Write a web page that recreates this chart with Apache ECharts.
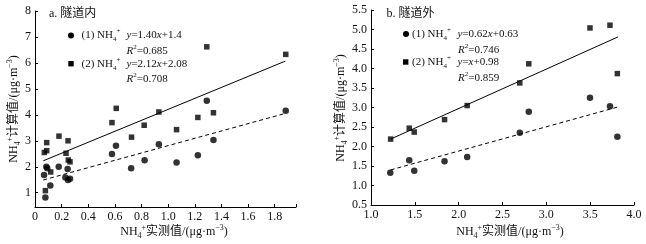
<!DOCTYPE html>
<html>
<head>
<meta charset="utf-8">
<script src="https://cdn.jsdelivr.net/npm/echarts@6/dist/echarts.min.js"></script>
<style>
  html, body { margin: 0; padding: 0; background: #fff; }
  #container { width: 646px; height: 244px; }
</style>
</head>
<body>
<div id="container"></div>
<script>
// a. 隧道内 —— 圆点 (1)，方块 (2)
var inCircleX = [0.068, 0.085, 0.092, 0.078, 0.115, 0.178, 0.245, 0.228, 0.248, 0.263, 0.578, 0.608, 0.722, 0.823, 0.93, 1.063, 1.223, 1.29, 1.34, 1.883]
var inCircleY = [1.68, 2.0, 1.94, 0.82, 1.28, 2.0, 1.91, 1.59, 1.49, 1.54, 2.49, 2.81, 1.94, 2.25, 2.87, 2.16, 2.44, 4.54, 3.03, 4.16]
var inSquareX = [0.07, 0.088, 0.088, 0.078, 0.118, 0.18, 0.233, 0.248, 0.25, 0.263, 0.578, 0.61, 0.725, 0.82, 0.93, 1.063, 1.223, 1.29, 1.34, 1.883]
var inSquareY = [2.55, 2.62, 2.93, 1.08, 1.80, 3.18, 2.52, 3.0, 2.26, 2.19, 3.70, 4.25, 3.14, 3.60, 4.11, 3.43, 3.90, 6.62, 4.08, 6.33]
var inFit1X = [0.062, 1.883]
var inFit1Y = [1.49, 4.06]
var inFit2X = [0.062, 1.88]
var inFit2Y = [2.23, 6.07]

// b. 隧道外
var outCircleX = [1.22, 1.436, 1.493, 1.839, 2.097, 2.697, 2.80, 3.498, 3.726, 3.81]
var outCircleY = [1.33, 1.65, 1.38, 1.62, 1.73, 2.35, 2.89, 3.25, 3.03, 2.25]
var outSquareX = [1.224, 1.436, 1.493, 1.839, 2.097, 2.697, 2.80, 3.498, 3.726, 3.81]
var outSquareY = [2.19, 2.47, 2.37, 2.69, 3.05, 3.63, 4.12, 5.04, 5.11, 3.87]
var outFit1X = [1.224, 3.81]
var outFit1Y = [1.40, 3.01]
var outFit2X = [1.224, 3.817]
var outFit2Y = [2.19, 4.81]

// 刻度
var inXTicks = [0, 0.2, 0.4, 0.6, 0.8, 1.0, 1.2, 1.4, 1.6, 1.8]
var inYTicks = [1, 2, 3, 4, 5, 6, 7, 8]

var SERIF = "'Liberation Serif','Noto Sans CJK SC',serif"

function pairs(xs, ys) {
  var out = []
  for (var i = 0; i < xs.length; i++) {
    out.push([xs[i], ys[i]])
  }
  return out
}

var rich = {
  t: { fontFamily: SERIF, fontSize: 11, lineHeight: 15, color: '#111' },
  i: { fontFamily: SERIF, fontSize: 11, lineHeight: 15, fontStyle: 'italic', color: '#111' },
  sb: { fontFamily: SERIF, fontSize: 7, lineHeight: 7, verticalAlign: 'bottom', color: '#111' },
  sp: { fontFamily: SERIF, fontSize: 7, lineHeight: 7, verticalAlign: 'top', color: '#111' },
  a: { fontFamily: SERIF, fontSize: 12, lineHeight: 16, color: '#111' },
  asb: { fontFamily: SERIF, fontSize: 8, lineHeight: 8, verticalAlign: 'bottom', color: '#111' },
  asp: { fontFamily: SERIF, fontSize: 8, lineHeight: 8, verticalAlign: 'top', color: '#111' }
}

function txt(x, y, s, align, rot) {
  return {
    type: 'text',
    x: x,
    y: y,
    rotation: rot || 0,
    style: {
      text: s,
      rich: rich,
      align: align || 'left',
      verticalAlign: 'middle',
      fill: '#111'
    }
  }
}

var xName = '{a|NH}{asb|4}{asp|+}{a|实测值/(μg·m}{asp|−3}{a|)}'
var yName = '{a|NH}{asb|4}{asp|+}{a|计算值/(μg·m}{asp|−3}{a|)}'

function axisCommon() {
  return {
    axisLine: { lineStyle: { color: '#000', width: 1 } },
    axisTick: { inside: true, length: 3, lineStyle: { color: '#000' } },
    axisLabel: { color: '#111', fontFamily: SERIF, fontSize: 12, margin: 4 },
    splitLine: { show: false }
  }
}

var chart = echarts.init(document.getElementById('container'))

var xa0 = axisCommon()
xa0.gridIndex = 0
xa0.type = 'value'
xa0.min = 0
xa0.max = 1.96
xa0.axisTick.customValues = inXTicks.concat([1.96])
xa0.axisLabel.customValues = inXTicks
xa0.axisLabel.formatter = function(v) { return v === 0 ? '0' : v.toFixed(1) }

var ya0 = axisCommon()
ya0.gridIndex = 0
ya0.type = 'value'
ya0.min = 0.45
ya0.max = 8
ya0.axisTick.customValues = inYTicks
ya0.axisLabel.customValues = inYTicks
ya0.axisLabel.formatter = function(v) { return String(v) }

var xa1 = axisCommon()
xa1.gridIndex = 1
xa1.type = 'value'
xa1.min = 1
xa1.max = 4
xa1.interval = 0.5
xa1.axisLabel.formatter = function(v) { return v.toFixed(1) }

var ya1 = axisCommon()
ya1.gridIndex = 1
ya1.type = 'value'
ya1.min = 0.5
ya1.max = 5.5
ya1.interval = 0.5
ya1.axisLabel.formatter = function(v) { return v.toFixed(1) }

chart.setOption({
  backgroundColor: '#fff',
  animation: false,
  grid: [
    { left: 35, top: 11, width: 261, height: 196 },
    { left: 371, top: 10, width: 263, height: 195 }
  ],
  xAxis: [xa0, xa1],
  yAxis: [ya0, ya1],
  series: [
    { type: 'scatter', xAxisIndex: 0, yAxisIndex: 0, symbol: 'circle', symbolSize: 6.5, itemStyle: { color: '#000' }, data: pairs(inCircleX, inCircleY) },
    { type: 'scatter', xAxisIndex: 0, yAxisIndex: 0, symbol: 'rect', symbolSize: 5.5, itemStyle: { color: '#000' }, data: pairs(inSquareX, inSquareY) },
    { type: 'line', xAxisIndex: 0, yAxisIndex: 0, symbol: 'none', lineStyle: { color: '#000', width: 1, type: [4, 3] }, data: pairs(inFit1X, inFit1Y) },
    { type: 'line', xAxisIndex: 0, yAxisIndex: 0, symbol: 'none', lineStyle: { color: '#000', width: 1 }, data: pairs(inFit2X, inFit2Y) },
    { type: 'scatter', xAxisIndex: 1, yAxisIndex: 1, symbol: 'circle', symbolSize: 6.5, itemStyle: { color: '#000' }, data: pairs(outCircleX, outCircleY) },
    { type: 'scatter', xAxisIndex: 1, yAxisIndex: 1, symbol: 'rect', symbolSize: 5.5, itemStyle: { color: '#000' }, data: pairs(outSquareX, outSquareY) },
    { type: 'line', xAxisIndex: 1, yAxisIndex: 1, symbol: 'none', lineStyle: { color: '#000', width: 1, type: [4, 3] }, data: pairs(outFit1X, outFit1Y) },
    { type: 'line', xAxisIndex: 1, yAxisIndex: 1, symbol: 'none', lineStyle: { color: '#000', width: 1 }, data: pairs(outFit2X, outFit2Y) }
  ],
  graphic: [
    // 坐标轴标题
    txt(174, 232, xName, 'center'),
    txt(14, 109, yName, 'center', Math.PI / 2),
    txt(510, 232, xName, 'center'),
    txt(341, 108, yName, 'center', Math.PI / 2),

    // a. 隧道内
    txt(49, 13.5, '{a|a. 隧道内}'),
    { type: 'circle', shape: { cx: 71, cy: 35.5, r: 3 }, style: { fill: '#000' } },
    txt(81.5, 35.5, '{t|(1) NH}{sb|4}{sp|+}'),
    txt(126.5, 35.5, '{i|y}{t|=1.40}{i|x}{t|+1.4}'),
    txt(126.5, 51, '{i|R}{sp|2}{t|=0.685}'),
    { type: 'rect', shape: { x: 68.3, y: 61, width: 5.4, height: 5.4 }, style: { fill: '#000' } },
    txt(81.5, 64, '{t|(2) NH}{sb|4}{sp|+}'),
    txt(126.5, 64, '{i|y}{t|=2.12}{i|x}{t|+2.08}'),
    txt(126.5, 79.5, '{i|R}{sp|2}{t|=0.708}'),

    // b. 隧道外
    txt(386.5, 13.5, '{a|b. 隧道外}'),
    { type: 'circle', shape: { cx: 406, cy: 34, r: 3 }, style: { fill: '#000' } },
    txt(412, 34, '{t|(1) NH}{sb|4}{sp|+}'),
    txt(457.5, 34, '{i|y}{t|=0.62}{i|x}{t|+0.63}'),
    txt(458, 50, '{i|R}{sp|2}{t|=0.746}'),
    { type: 'rect', shape: { x: 403, y: 59.3, width: 5.4, height: 5.4 }, style: { fill: '#000' } },
    txt(412, 62, '{t|(2) NH}{sb|4}{sp|+}'),
    txt(457.5, 62, '{i|y}{t|=}{i|x}{t|+0.98}'),
    txt(458, 78.5, '{i|R}{sp|2}{t|=0.859}')
  ]
})
</script>
</body>
</html>
